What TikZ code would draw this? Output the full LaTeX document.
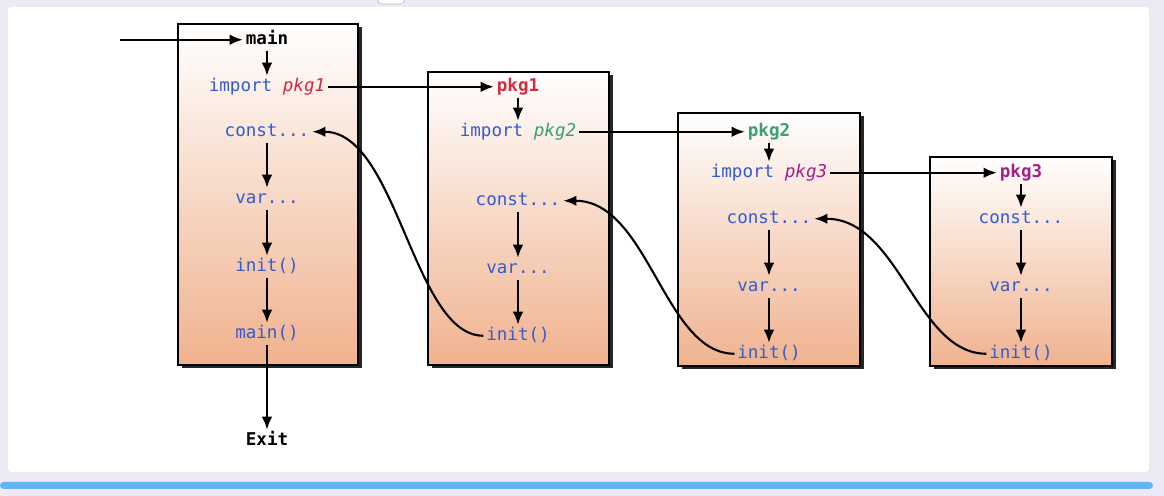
\documentclass[tikz,border=0pt]{standalone}
\usepackage{fontspec}
\setmonofont{DejaVu Sans Mono}
\usepackage{xcolor}
\usetikzlibrary{arrows.meta,shadows}
\definecolor{code}{RGB}{52,92,206}
\definecolor{redpkg}{RGB}{212,42,62}
\definecolor{greenpkg}{RGB}{58,160,112}
\definecolor{purplepkg}{RGB}{166,30,140}
\definecolor{peach}{RGB}{240,178,142}
\definecolor{frame}{RGB}{237,233,245}
\definecolor{bar}{RGB}{100,180,244}

\begin{document}
\begin{tikzpicture}[x=0.02cm,y=-0.02cm,
	every node/.style={font=\ttfamily\fontsize{10}{12}\selectfont,inner sep=1.5pt,text height=7pt,text depth=2pt,yshift=-1pt},
	txt/.style={text=code},
	lbl/.style={font=\ttfamily\bfseries\fontsize{10}{12}\selectfont},
	arr/.style={-{Latex[length=7.5pt,width=6pt]},line width=1.2pt},
	box/.style={draw=black,line width=1.2pt,top color=white,middle color=peach!45,bottom color=peach,
		drop shadow={shadow xshift=0.07cm,shadow yshift=-0.07cm,fill=black!85,opacity=1}}]
	\useasboundingbox (0,0) rectangle (1164,496);
	% window frame
	\fill[frame] (0,0) rectangle (1164,496);
	\fill[white,rounded corners=2pt] (8,7) rectangle (1149,472);
	\fill[bar,rounded corners=2pt] (0,482) rectangle (1153,489);
	\draw[gray!50,fill=white,rounded corners=2pt] (378,-3) rectangle (404,4);
	% boxes
	\path[box] (178,24) rectangle (358,365);
	\path[box] (428,72) rectangle (609,365);
	\path[box] (678,113) rectangle (860,366);
	\path[box] (930,157) rectangle (1112,366);
	% main
	\coordinate (start) at (120,38);
	\node[lbl] (main) at (267,38) {main};
	\node[txt] (imp1) at (267,85) {import \textcolor{redpkg}{\itshape pkg1}};
	\node[txt] (c1) at (267,130) {const...};
	\node[txt] (v1) at (267,197) {var...};
	\node[txt] (i1) at (267,265) {init()};
	\node[txt] (m1) at (267,332) {main()};
	\node[lbl] (exit) at (267,439) {Exit};
	% pkg1
	\node[lbl,text=redpkg] (p1) at (518,85) {pkg1};
	\node[txt] (imp2) at (518,130) {import \textcolor{greenpkg}{\itshape pkg2}};
	\node[txt] (c2) at (518,199) {const...};
	\node[txt] (v2) at (518,267) {var...};
	\node[txt] (i2) at (518,334) {init()};
	% pkg2
	\node[lbl,text=greenpkg] (p2) at (769,130) {pkg2};
	\node[txt] (imp3) at (769,171) {import \textcolor{purplepkg}{\itshape pkg3}};
	\node[txt] (c3) at (769,217) {const...};
	\node[txt] (v3) at (769,285) {var...};
	\node[txt] (i3) at (769,352) {init()};
	% pkg3
	\node[lbl,text=purplepkg] (p3) at (1021,171) {pkg3};
	\node[txt] (c4) at (1021,217) {const...};
	\node[txt] (v4) at (1021,285) {var...};
	\node[txt] (i4) at (1021,352) {init()};
	% arrows
	\draw[arr] (start) -- (main);
	\draw[arr] (main) -- (imp1);
	\draw[arr] (c1) -- (v1);
	\draw[arr] (v1) -- (i1);
	\draw[arr] (i1) -- (m1);
	\draw[arr] (m1) -- (exit);
	\draw[arr] (imp1) -- (p1);
	\draw[arr] (p1) -- (imp2);
	\draw[arr] (c2) -- (v2);
	\draw[arr] (v2) -- (i2);
	\draw[arr] (imp2) -- (p2);
	\draw[arr] (p2) -- (imp3);
	\draw[arr] (c3) -- (v3);
	\draw[arr] (v3) -- (i3);
	\draw[arr] (imp3) -- (p3);
	\draw[arr] (p3) -- (c4);
	\draw[arr] (c4) -- (v4);
	\draw[arr] (v4) -- (i4);
	% init back to const
	\draw[arr] (i2.west) .. controls +(-70,0) and +(85,0) .. (c1.east);
	\draw[arr] (i3.west) .. controls +(-70,0) and +(85,0) .. (c2.east);
	\draw[arr] (i4.west) .. controls +(-70,0) and +(85,0) .. (c3.east);
\end{tikzpicture}
\end{document}
